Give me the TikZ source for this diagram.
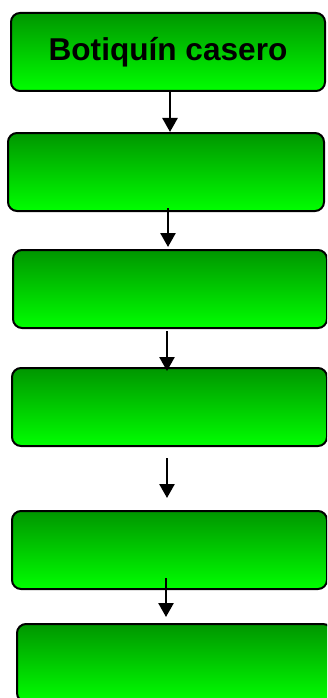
\documentclass[tikz,border=0pt]{standalone}
\usepackage{fontspec}
\setmainfont{Liberation Sans}
\usetikzlibrary{arrows.meta}
\definecolor{gtop}{RGB}{0,150,0}
\definecolor{gmid}{RGB}{0,228,0}
\definecolor{gbot}{RGB}{0,255,0}
\tikzset{
  box/.style={draw=black, line width=2pt, rounded corners=9pt,
    top color=gtop, middle color=gmid, bottom color=gbot,
    minimum height=78pt, inner sep=0pt, font=\fontsize{31.6}{36}\selectfont\bfseries},
  arr/.style={draw=black, line width=2.6pt, -{Triangle[width=15pt,length=14pt]}}
}
\begin{document}
\begin{tikzpicture}[x=1pt,y=-1pt]
\useasboundingbox (0,0) rectangle (327,698);
\clip (0,0) rectangle (327,698);
\node[box, minimum width=314pt] (b1) at (168,52) {Botiquín casero};
\node[box, minimum width=316pt] (b2) at (166,172) {};
\node[box, minimum width=314pt] (b3) at (170,289) {};
\node[box, minimum width=315pt] (b4) at (169.5,407) {};
\node[box, minimum width=315pt] (b5) at (169.5,550) {};
\node[box, minimum width=315pt] (b6) at (174.5,663) {};
\draw[arr] ([xshift=2pt,yshift=1pt]b1.south) -- ([xshift=4pt,yshift=0pt]b2.north);
\draw[arr] ([xshift=2pt,yshift=4pt]b2.south) -- ([xshift=-2pt,yshift=2pt]b3.north);
\draw[arr] ([xshift=-3pt,yshift=-2pt]b3.south) -- ([xshift=-2.5pt,yshift=-4pt]b4.north);
\draw[arr] ([xshift=-2.5pt,yshift=-11pt]b4.south) -- ([xshift=-2.5pt,yshift=12pt]b5.north);
\draw[arr] ([xshift=-3.5pt,yshift=12pt]b5.south) -- ([xshift=-8.5pt,yshift=6pt]b6.north);
\end{tikzpicture}
\end{document}
